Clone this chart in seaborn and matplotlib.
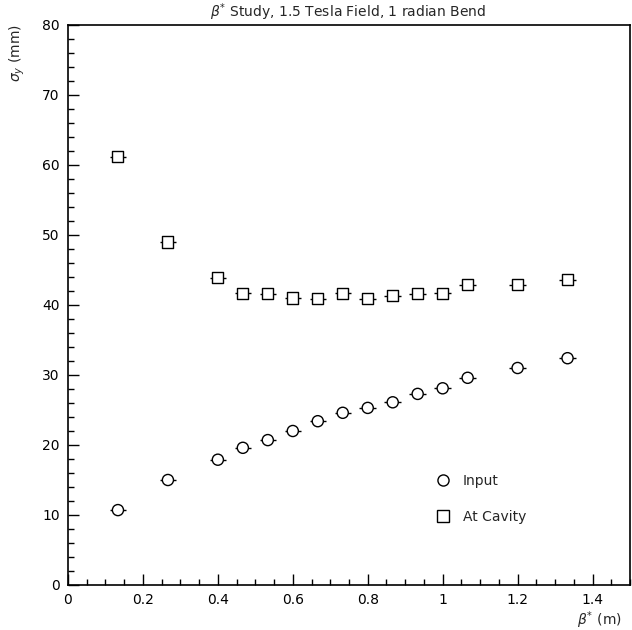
import matplotlib
matplotlib.use("Agg")
import matplotlib.pyplot as plt
import seaborn as sns
import pandas as pd
from matplotlib.ticker import MultipleLocator, FormatStrFormatter
from matplotlib.lines import Line2D

beta = [0.1333, 0.2667, 0.4, 0.4667, 0.5333, 0.6, 0.6667, 0.7333, 0.8,
        0.8667, 0.9333, 1.0, 1.0667, 1.2, 1.3333]
sigma_input = [10.7, 15.0, 17.9, 19.6, 20.7, 22.0, 23.4, 24.6, 25.3,
               26.1, 27.3, 28.1, 29.6, 31.0, 32.4]
sigma_cavity = [61.2, 49.0, 43.9, 41.7, 41.6, 41.0, 40.9, 41.7, 40.9,
                41.3, 41.6, 41.7, 42.9, 42.9, 43.6]
beta_err = [0.022] * len(beta)
series_names = ["Input", "At Cavity"]

df = pd.DataFrame({
    "beta": beta * 2,
    "sigma": sigma_input + sigma_cavity,
    "series": [series_names[0]] * len(beta) + [series_names[1]] * len(beta),
})

sns.set_style("white")
plt.rcParams["font.family"] = ["DejaVu Sans"]

fig = plt.figure(figsize=(6.32, 6.30), dpi=100)
ax = fig.add_axes([68 / 632, 1 - 585 / 630, 562 / 632, 560 / 630])

ax.errorbar(beta, sigma_input, xerr=beta_err, fmt="none", ecolor="black",
            elinewidth=1, capsize=0, zorder=1)
ax.errorbar(beta, sigma_cavity, xerr=beta_err, fmt="none", ecolor="black",
            elinewidth=1, capsize=0, zorder=1)
sns.scatterplot(data=df, x="beta", y="sigma", style="series",
                markers={"Input": "o", "At Cavity": "s"}, s=64,
                facecolor="white", edgecolor="black", linewidth=1,
                legend=False, ax=ax, zorder=3)

ax.set_xlim(0, 1.5)
ax.set_ylim(0, 80)
ax.xaxis.set_major_locator(MultipleLocator(0.2))
ax.xaxis.set_minor_locator(MultipleLocator(0.05))
ax.yaxis.set_major_locator(MultipleLocator(10))
ax.yaxis.set_minor_locator(MultipleLocator(2))
ax.xaxis.set_major_formatter(FormatStrFormatter("%g"))
ax.tick_params(which="both", direction="in", bottom=True, left=True,
               top=False, right=False, colors="black", labelsize=10)
ax.tick_params(which="major", length=8, width=1, pad=6)
ax.tick_params(which="minor", length=4, width=1)
for sp in ax.spines.values():
    sp.set_color("black")
    sp.set_linewidth(1.2)

ax.set_xlabel("")
ax.set_ylabel("")
fig.text(622 / 632, 1 - 620 / 630, r"$\beta^{*}$ (m)", ha="right", va="center",
         fontsize=10)
fig.text(17 / 632, 1 - 53 / 630, r"$\sigma_{y}$ (mm)", ha="center", va="center",
         rotation=90, fontsize=10)
fig.text(348 / 632, 1 - 12 / 630, r"$\beta^{*}$ Study, 1.5 Tesla Field, 1 radian Bend",
         ha="center", va="center", fontsize=10)

handles = [
    Line2D([], [], marker="o", linestyle="none", markerfacecolor="white",
           markeredgecolor="black", markersize=8, label=series_names[0]),
    Line2D([], [], marker="s", linestyle="none", markerfacecolor="white",
           markeredgecolor="black", markersize=8, label=series_names[1]),
]
ax.legend(handles=handles, loc="upper left",
          bbox_to_anchor=((424 - 68) / 562, (585 - 468) / 560),
          frameon=False, fontsize=10, labelspacing=1.6, handletextpad=0.4,
          borderaxespad=0)

fig.savefig("out.png", dpi=100)
